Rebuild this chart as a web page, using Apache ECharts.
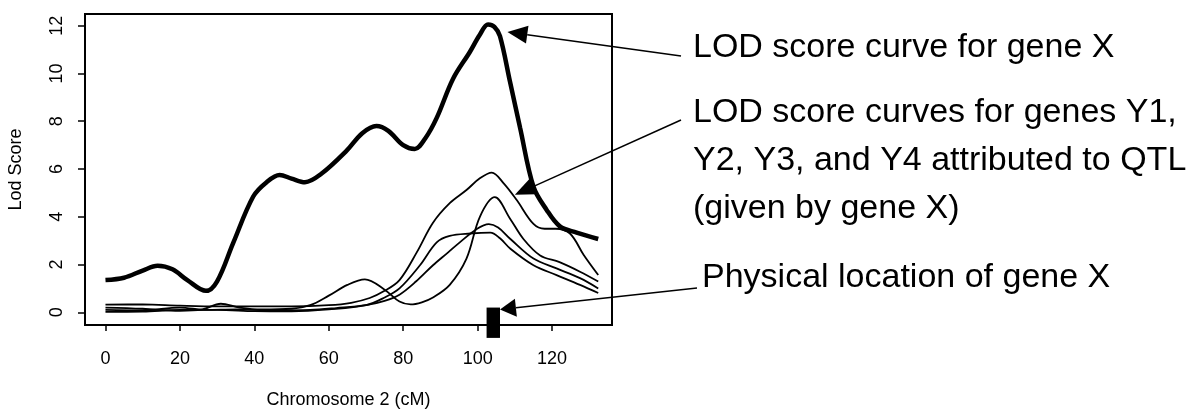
<!DOCTYPE html>
<html>
<head>
<meta charset="utf-8">
<script src="https://cdn.jsdelivr.net/npm/echarts@6/dist/echarts.min.js"></script>
<style>
html,body{margin:0;padding:0;background:#fff;}
#chart{width:1191px;height:414px;}
</style>
</head>
<body>
<div id="chart"></div>
<script>
// ---- data (cM, LOD) ----
const xTicks = [0, 20, 40, 60, 80, 100, 120];
const yTicks = [0, 2, 4, 6, 8, 10, 12];
const xTitle = 'Chromosome 2 (cM)';
const yTitle = 'Lod Score';

const geneX = [[0,1.35],[5,1.45],[10,1.75],[14,1.95],[18,1.8],[22,1.35],[27,0.9],[30,1.3],[34.3,2.9],[39.7,4.85],[43.3,5.45],[46.8,5.75],[50,5.6],[53.6,5.45],[58,5.8],[64.8,6.77],[69,7.5],[72.8,7.8],[76,7.6],[80,7.0],[83.1,6.84],[86,7.3],[89,8.14],[93.4,9.78],[97.9,10.9],[100.5,11.6],[102.8,12.05],[104.5,11.95],[106,11.56],[108.7,9.65],[111.4,7.73],[115,5.26],[118.5,4.3],[122.1,3.6],[126.6,3.34],[132.4,3.07]];

const geneY1 = [[0,0.32],[10,0.33],[20,0.28],[30,0.25],[40,0.25],[50,0.25],[60,0.3],[66,0.4],[71,0.6],[75,0.9],[79,1.35],[83.6,2.5],[88,3.75],[92.5,4.57],[97,5.12],[100.5,5.6],[103.8,5.85],[107,5.4],[110.5,4.7],[115,3.7],[118,3.5],[121,3.5],[124.8,3.3],[128.5,2.4],[132.4,1.56]];

const geneY2 = [[0,0.2],[10,0.15],[20,0.06],[26,0.12],[31,0.36],[36,0.2],[42,0.12],[50,0.15],[55,0.3],[60,0.7],[65,1.15],[69.7,1.38],[75,0.95],[79,0.45],[82,0.33],[85,0.42],[88,0.62],[92.5,1.15],[97,2.25],[100.6,4.0],[104.6,4.82],[108.8,3.9],[112.3,3.07],[116.8,2.38],[122,2.1],[127.5,1.7],[132.4,1.29]];

const geneY3 = [[0,0.1],[10,0.08],[20,0.2],[27,0.1],[35,0.12],[45,0.08],[55,0.1],[62,0.18],[70,0.3],[75,0.48],[79,0.74],[83.5,1.3],[88,1.97],[92,2.5],[95.2,2.93],[99.7,3.48],[103,3.69],[105.5,3.55],[108.8,3.07],[115,2.25],[121.2,1.84],[127.5,1.43],[132.4,1.0]];

const geneY4 = [[0,0.02],[10,0.03],[20,0.1],[30,0.1],[40,0.05],[50,0.04],[60,0.12],[70,0.3],[75,0.62],[79,1.0],[84.5,1.97],[89,2.93],[92.5,3.2],[98,3.3],[103.4,3.34],[106,3.1],[108.8,2.66],[115,1.97],[121.2,1.56],[127.5,1.15],[132.4,0.81]];

// physical location of gene X: [centre cM, half width cM, top LOD, bottom LOD]
const geneXLocation = [[104.2, 1.8, 0.2, -1.07]];

// annotation texts and the data points their arrows point at
const notes = [
  {lines: ['LOD score curve for gene X'], tip: [108, 11.74]},
  {lines: ['LOD score curves for genes Y1,', 'Y2, Y3, and Y4 attributed to QTL', '(given by gene X)'], tip: [110, 4.92]},
  {lines: ['Physical location of gene X'], tip: [106, 0.12]}
];

// ---- chart ----
const chart = echarts.init(document.getElementById('chart'), null, {renderer: 'canvas'});
const FONT = '"Liberation Sans", Arial, sans-serif';

function lineSeries(data, width) {
  return {
    type: 'line', data: data, smooth: 0.35, showSymbol: false, symbol: 'none',
    lineStyle: {color: '#000', width: width}, z: width > 3 ? 4 : 3, clip: false
  };
}

const option = {
  backgroundColor: '#fff',
  animation: false,
  grid: {left: 85, top: 14, width: 527, height: 317, show: true, borderColor: '#000', borderWidth: 2, backgroundColor: 'transparent'},
  xAxis: {
    type: 'value', min: -5.5, max: 136.1,
    splitLine: {show: false},
    axisLine: {show: false, onZero: false},
    axisTick: {show: true, inside: false, length: 6, customValues: xTicks, lineStyle: {color: '#000', width: 1.5}},
    axisLabel: {show: true, customValues: xTicks, margin: 25, color: '#000', fontSize: 18, fontFamily: FONT},
    name: xTitle, nameLocation: 'middle', nameGap: 66,
    nameTextStyle: {color: '#000', fontSize: 18, fontFamily: FONT}
  },
  yAxis: {
    type: 'value', min: -0.53, max: 12.49,
    splitLine: {show: false},
    axisLine: {show: false, onZero: false},
    axisTick: {show: true, inside: false, length: 7, customValues: yTicks, lineStyle: {color: '#000', width: 1.5}},
    axisLabel: {show: true, customValues: yTicks, rotate: 90, margin: 19, color: '#000', fontSize: 18, fontFamily: FONT},
    name: yTitle, nameLocation: 'middle', nameGap: 60, nameRotate: 90,
    nameTextStyle: {color: '#000', fontSize: 18, fontFamily: FONT}
  },
  series: [
    lineSeries(geneY1, 1.8),
    lineSeries(geneY2, 1.8),
    lineSeries(geneY3, 1.8),
    lineSeries(geneY4, 1.8),
    lineSeries(geneX, 4.5),
    {
      type: 'custom', clip: false, z: 6,
      data: geneXLocation,
      renderItem: function (params, api) {
        const c = api.value(0), hw = api.value(1), top = api.value(2), bot = api.value(3);
        const p1 = api.coord([c - hw, top]);
        const p2 = api.coord([c + hw, bot]);
        return {type: 'rect', shape: {x: p1[0], y: p1[1], width: p2[0] - p1[0], height: p2[1] - p1[1]}, style: {fill: '#000'}};
      }
    }
  ]
};
chart.setOption(option);

// ---- annotations: text at fixed layout spots, arrows to data points ----
const textLayout = [
  {x: 693, y: 47.5, tail: [681, 56], head: [20, 9]},
  {x: 693, y: 113, tail: [681, 120], lh: 48, head: [20, 8.5]},
  {x: 702, y: 278, tail: [697, 288], head: [16, 9]}
];
const g = [];
notes.forEach(function (n, i) {
  const L = textLayout[i];
  const lh = L.lh || 48;
  n.lines.forEach(function (t, j) {
    g.push({type: 'text', x: L.x, y: L.y + j * lh, style: {text: t, fill: '#000', font: '34px ' + FONT, verticalAlign: 'middle', align: 'left'}});
  });
  const tip = chart.convertToPixel({gridIndex: 0}, n.tip);
  const tail = L.tail;
  const dx = tail[0] - tip[0], dy = tail[1] - tip[1];
  const len = Math.sqrt(dx * dx + dy * dy);
  const ux = dx / len, uy = dy / len;
  const hl = L.head[0], hw = L.head[1];
  const bx = tip[0] + ux * hl, by = tip[1] + uy * hl;
  g.push({type: 'line', shape: {x1: bx, y1: by, x2: tail[0], y2: tail[1]}, style: {stroke: '#000', lineWidth: 1.5}, z: 10});
  g.push({type: 'polygon', shape: {points: [[tip[0], tip[1]], [bx - uy * hw, by + ux * hw], [bx + uy * hw, by - ux * hw]]}, style: {fill: '#000'}, z: 10});
});
chart.setOption({graphic: g});
</script>
</body>
</html>
